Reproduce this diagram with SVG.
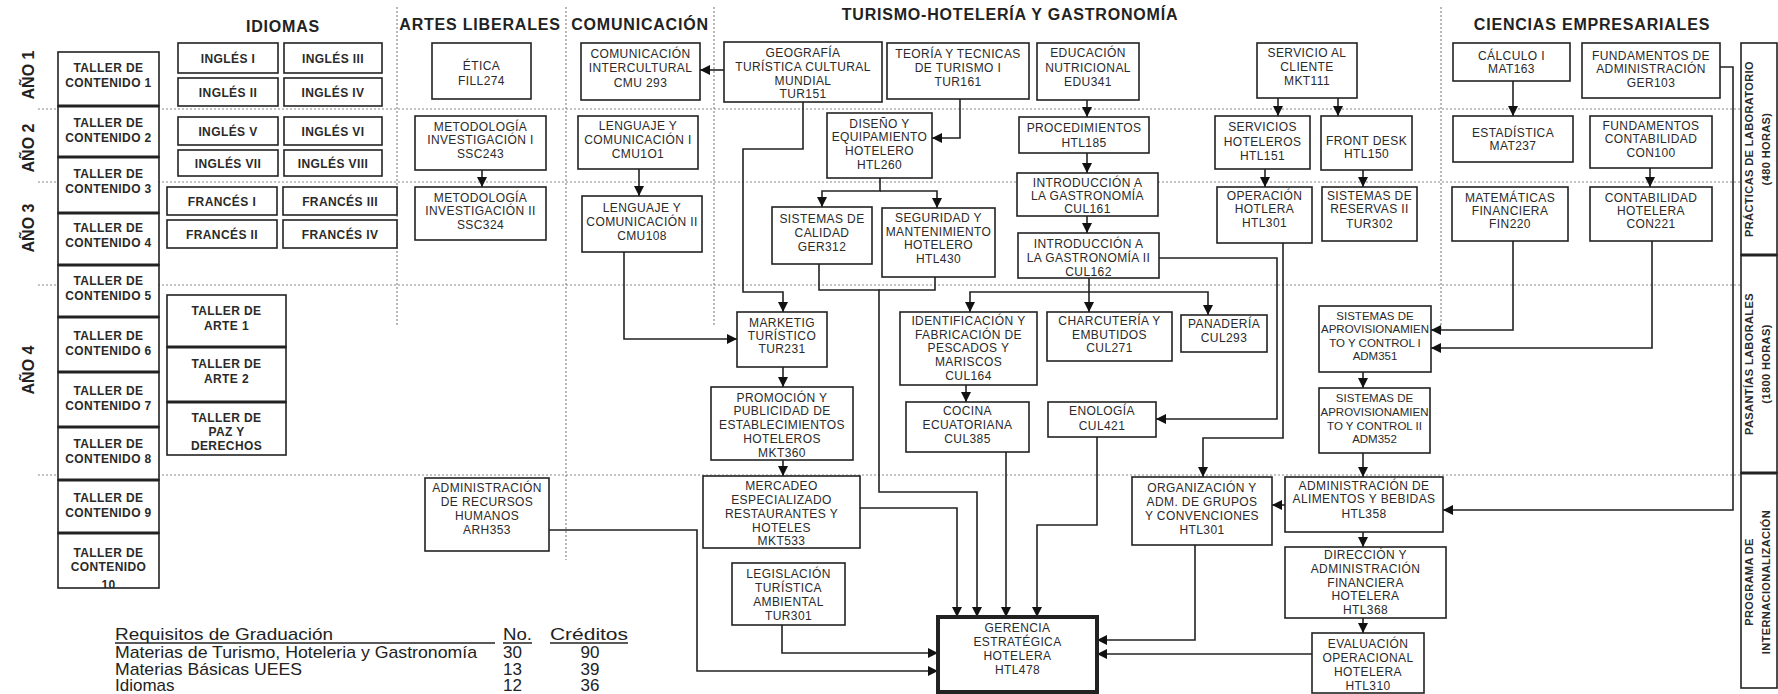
<svg xmlns="http://www.w3.org/2000/svg" width="1778" height="694" viewBox="0 0 1778 694">
<style>
text{font-family:"Liberation Sans",Arial,sans-serif;fill:#2a2a2a}
.n rect{fill:#fff;stroke:#222;stroke-width:1.6}
.n text{font-size:12px;text-anchor:middle;letter-spacing:0.4px}
.bd text{font-weight:bold}
.nar text{font-size:11.5px;letter-spacing:0}
.hd{font-size:16px;font-weight:bold;text-anchor:middle;letter-spacing:0.8px;fill:#222}
.ano{font-size:16px;font-weight:bold;text-anchor:middle;fill:#222}
.sep{stroke:#8a8a8a;stroke-width:1.2;stroke-dasharray:2 2;fill:none}
.thk{stroke:#222;stroke-width:3.2}
#connectors path{fill:none;stroke:#222;stroke-width:1.6;marker-end:url(#ah)}
.side text{font-size:11px;font-weight:bold;text-anchor:middle}
.lg{font-size:17px;fill:#222}
.ul{stroke:#222;stroke-width:1.5}
</style>
<defs>
<marker id="ah" markerUnits="userSpaceOnUse" markerWidth="11" markerHeight="10" refX="10" refY="5" orient="auto">
<path d="M0,0 L10,5 L0,10 z" fill="#111"/>
</marker>
<clipPath id="t10clip"><rect x="58" y="533" width="101" height="55"/></clipPath>
</defs>
<rect width="1778" height="694" fill="#fff"/>

<g id="separators">
<line class="sep" x1="38" y1="109" x2="1741" y2="109"/>
<line class="sep" x1="38" y1="182" x2="1741" y2="182"/>
<line class="sep" x1="38" y1="285" x2="1741" y2="285"/>
<line class="sep" x1="38" y1="475" x2="1741" y2="475"/>
<line class="sep" x1="397" y1="7" x2="397" y2="327"/>
<line class="sep" x1="566" y1="7" x2="566" y2="560"/>
<line class="sep" x1="714" y1="7" x2="714" y2="327"/>
<line class="sep" x1="1441" y1="7" x2="1441" y2="329"/>
</g>

<g id="headers">
<text class="hd" x="283" y="32">IDIOMAS</text>
<text class="hd" x="480" y="30">ARTES LIBERALES</text>
<text class="hd" x="640" y="30">COMUNICACIÓN</text>
<text class="hd" x="1010" y="20">TURISMO-HOTELERÍA Y GASTRONOMÍA</text>
<text class="hd" x="1592" y="30">CIENCIAS EMPRESARIALES</text>
<text class="ano" transform="translate(34,75) rotate(-90)">AÑO 1</text>
<text class="ano" transform="translate(34,148) rotate(-90)">AÑO 2</text>
<text class="ano" transform="translate(34,228) rotate(-90)">AÑO 3</text>
<text class="ano" transform="translate(34,370) rotate(-90)">AÑO 4</text>
</g>

<g id="connectors">
<path d="M724 70 H700"/>
<path d="M803 102 V149 H743 V292 H783 V312"/>
<path d="M960 99 V138 H932"/>
<path d="M1087 100 V117"/>
<path d="M1087 153 V173"/>
<path d="M1087 216 V233"/>
<path d="M880 178 V191 H822 V207"/>
<path d="M880 191 H937 V208"/>
<path d="M482 170 V187"/>
<path d="M639 169 V196"/>
<path d="M624 252 V339 H737"/>
<path d="M783 367 V387"/>
<path d="M783 460 V476"/>
<path d="M819 264 V290 H879 V492 H977 V617"/>
<path d="M935 277 V290 H879" style="marker-end:none"/>
<path d="M860 508 H957 V617"/>
<path d="M1006 452 V617"/>
<path d="M1097 437 V525 H1037 V617"/>
<path d="M549 530 H697 V671 H938"/>
<path d="M782 625 V653 H938"/>
<path d="M1195 545 V640 H1097"/>
<path d="M1312 654 H1097"/>
<path d="M1089 278 V292 H970 V312"/>
<path d="M1089 292 V312"/>
<path d="M1089 292 H1208 V315"/>
<path d="M966 385 V402"/>
<path d="M1159 258 H1277 V419 H1156"/>
<path d="M1283 243 V438 H1203 V477"/>
<path d="M1278 98 V116"/>
<path d="M1338 98 V116"/>
<path d="M1265 169 V187"/>
<path d="M1363 170 V187"/>
<path d="M1513 81 V116"/>
<path d="M1650 168 V187"/>
<path d="M1513 241 V330 H1431"/>
<path d="M1652 241 V348 H1431"/>
<path d="M1363 372 V388"/>
<path d="M1363 453 V477"/>
<path d="M1720 67 H1733 V510 H1443"/>
<path d="M1285 505 H1272"/>
<path d="M1363 532 V547"/>
<path d="M1363 618 V633"/>
</g>

<!-- Taller de contenido column -->
<g id="taller1" class="n bd"><rect x="58" y="52" width="101" height="54"/><text><tspan x="108.5" y="72">TALLER DE</tspan><tspan x="108.5" y="87">CONTENIDO 1</tspan></text></g>
<g id="taller2" class="n bd"><rect x="58" y="106" width="101" height="51"/><text><tspan x="108.5" y="127">TALLER DE</tspan><tspan x="108.5" y="142">CONTENIDO 2</tspan></text></g>
<g id="taller3" class="n bd"><rect x="58" y="157" width="101" height="56"/><text><tspan x="108.5" y="178">TALLER DE</tspan><tspan x="108.5" y="193">CONTENIDO 3</tspan></text></g>
<g id="taller4" class="n bd"><rect x="58" y="213" width="101" height="52"/><text><tspan x="108.5" y="232">TALLER DE</tspan><tspan x="108.5" y="247">CONTENIDO 4</tspan></text></g>
<g id="taller5" class="n bd"><rect x="58" y="265" width="101" height="52"/><text><tspan x="108.5" y="285">TALLER DE</tspan><tspan x="108.5" y="300">CONTENIDO 5</tspan></text></g>
<g id="taller6" class="n bd"><rect x="58" y="317" width="101" height="55"/><text><tspan x="108.5" y="340">TALLER DE</tspan><tspan x="108.5" y="355">CONTENIDO 6</tspan></text></g>
<g id="taller7" class="n bd"><rect x="58" y="372" width="101" height="55"/><text><tspan x="108.5" y="395">TALLER DE</tspan><tspan x="108.5" y="410">CONTENIDO 7</tspan></text></g>
<g id="taller8" class="n bd"><rect x="58" y="427" width="101" height="53"/><text><tspan x="108.5" y="448">TALLER DE</tspan><tspan x="108.5" y="463">CONTENIDO 8</tspan></text></g>
<g id="taller9" class="n bd"><rect x="58" y="480" width="101" height="53"/><text><tspan x="108.5" y="502">TALLER DE</tspan><tspan x="108.5" y="517">CONTENIDO 9</tspan></text></g>
<g id="taller10" class="n bd"><rect x="58" y="533" width="101" height="55"/><text clip-path="url(#t10clip)"><tspan x="108.5" y="557">TALLER DE</tspan><tspan x="108.5" y="571">CONTENIDO</tspan><tspan x="108.5" y="589">10</tspan></text></g>
<g id="taller-sep">
<line class="thk" x1="58" y1="106" x2="159" y2="106"/>
<line class="thk" x1="58" y1="157" x2="159" y2="157"/>
<line class="thk" x1="58" y1="213" x2="159" y2="213"/>
<line class="thk" x1="58" y1="265" x2="159" y2="265"/>
<line class="thk" x1="58" y1="317" x2="159" y2="317"/>
<line class="thk" x1="58" y1="372" x2="159" y2="372"/>
<line class="thk" x1="58" y1="427" x2="159" y2="427"/>
<line class="thk" x1="58" y1="480" x2="159" y2="480"/>
<line class="thk" x1="58" y1="533" x2="159" y2="533"/>
</g>

<g id="arte1" class="n bd"><rect x="167" y="295" width="119" height="52"/><text><tspan x="226.5" y="315">TALLER DE</tspan><tspan x="226.5" y="330">ARTE 1</tspan></text></g>
<g id="arte2" class="n bd"><rect x="167" y="347" width="119" height="55"/><text><tspan x="226.5" y="368">TALLER DE</tspan><tspan x="226.5" y="383">ARTE 2</tspan></text></g>
<g id="paz" class="n bd"><rect x="167" y="402" width="119" height="53"/><text><tspan x="226.5" y="422">TALLER DE</tspan><tspan x="226.5" y="436">PAZ Y</tspan><tspan x="226.5" y="450">DERECHOS</tspan></text></g>
<g id="taller-sep2">
<line class="thk" x1="167" y1="347" x2="286" y2="347"/>
<line class="thk" x1="167" y1="402" x2="286" y2="402"/>
</g>

<!-- Idiomas -->
<g id="ingles1" class="n bd"><rect x="178" y="43" width="100" height="30"/><text x="228" y="63">INGLÉS I</text></g>
<g id="ingles3" class="n bd"><rect x="284" y="43" width="98" height="30"/><text x="333" y="63">INGLÉS III</text></g>
<g id="ingles2" class="n bd"><rect x="178" y="78" width="100" height="28"/><text x="228" y="97">INGLÉS II</text></g>
<g id="ingles4" class="n bd"><rect x="284" y="78" width="98" height="28"/><text x="333" y="97">INGLÉS IV</text></g>
<g id="ingles5" class="n bd"><rect x="178" y="117" width="100" height="28"/><text x="228" y="136">INGLÉS V</text></g>
<g id="ingles6" class="n bd"><rect x="284" y="117" width="98" height="28"/><text x="333" y="136">INGLÉS VI</text></g>
<g id="ingles7" class="n bd"><rect x="178" y="150" width="100" height="26"/><text x="228" y="168">INGLÉS VII</text></g>
<g id="ingles8" class="n bd"><rect x="284" y="150" width="98" height="26"/><text x="333" y="168">INGLÉS VIII</text></g>
<g id="frances1" class="n bd"><rect x="167" y="187" width="110" height="28"/><text x="222" y="206">FRANCÉS I</text></g>
<g id="frances3" class="n bd"><rect x="283" y="187" width="114" height="28"/><text x="340" y="206">FRANCÉS III</text></g>
<g id="frances2" class="n bd"><rect x="167" y="220" width="110" height="28"/><text x="222" y="239">FRANCÉS II</text></g>
<g id="frances4" class="n bd"><rect x="283" y="220" width="114" height="28"/><text x="340" y="239">FRANCÉS  IV</text></g>

<!-- Artes liberales -->
<g id="fill274" class="n"><rect x="432" y="43" width="99" height="56"/><text><tspan x="481.5" y="70">ÉTICA</tspan><tspan x="481.5" y="85">FILL274</tspan></text></g>
<g id="ssc243" class="n"><rect x="415" y="116" width="131" height="54"/><text><tspan x="480.5" y="131">METODOLOGÍA</tspan><tspan x="480.5" y="144">INVESTIGACIÓN  I</tspan><tspan x="480.5" y="158">SSC243</tspan></text></g>
<g id="ssc324" class="n"><rect x="415" y="187" width="131" height="53"/><text><tspan x="480.5" y="202">METODOLOGÍA</tspan><tspan x="480.5" y="215">INVESTIGACIÓN  II</tspan><tspan x="480.5" y="229">SSC324</tspan></text></g>
<g id="arh353" class="n"><rect x="425" y="478" width="124" height="73"/><text><tspan x="487" y="492">ADMINISTRACIÓN</tspan><tspan x="487" y="506">DE RECURSOS</tspan><tspan x="487" y="520">HUMANOS</tspan><tspan x="487" y="534">ARH353</tspan></text></g>

<!-- Comunicacion -->
<g id="cmu293" class="n"><rect x="581" y="43" width="119" height="57"/><text><tspan x="640.5" y="58">COMUNICACIÓN</tspan><tspan x="640.5" y="72">INTERCULTURAL</tspan><tspan x="640.5" y="87">CMU 293</tspan></text></g>
<g id="cmu101" class="n"><rect x="578" y="116" width="120" height="53"/><text><tspan x="638" y="130">LENGUAJE Y</tspan><tspan x="638" y="144">COMUNICACIÓN I</tspan><tspan x="638" y="158">CMU1O1</tspan></text></g>
<g id="cmu108" class="n"><rect x="582" y="196" width="120" height="56"/><text><tspan x="642" y="212">LENGUAJE Y</tspan><tspan x="642" y="226">COMUNICACIÓN II</tspan><tspan x="642" y="240">CMU108</tspan></text></g>

<!-- Turismo -->
<g id="tur151" class="n"><rect x="724" y="42" width="158" height="60"/><text><tspan x="803" y="57">GEOGRAFÍA</tspan><tspan x="803" y="71">TURÍSTICA CULTURAL</tspan><tspan x="803" y="85">MUNDIAL</tspan><tspan x="803" y="98">TUR151</tspan></text></g>
<g id="tur161" class="n"><rect x="887" y="43" width="142" height="56"/><text><tspan x="958" y="58">TEORÍA Y TECNICAS</tspan><tspan x="958" y="72">DE TURISMO I</tspan><tspan x="958" y="86">TUR161</tspan></text></g>
<g id="edu341" class="n"><rect x="1037" y="43" width="102" height="57"/><text><tspan x="1088" y="57">EDUCACIÓN</tspan><tspan x="1088" y="72">NUTRICIONAL</tspan><tspan x="1088" y="86">EDU341</tspan></text></g>
<g id="htl260" class="n"><rect x="827" y="113" width="105" height="65"/><text><tspan x="879.5" y="128">DISEÑO Y</tspan><tspan x="879.5" y="141">EQUIPAMIENTO</tspan><tspan x="879.5" y="155">HOTELERO</tspan><tspan x="879.5" y="169">HTL260</tspan></text></g>
<g id="htl185" class="n"><rect x="1019" y="117" width="130" height="36"/><text><tspan x="1084" y="132">PROCEDIMIENTOS</tspan><tspan x="1084" y="147">HTL185</tspan></text></g>
<g id="cul161" class="n"><rect x="1017" y="173" width="141" height="43"/><text><tspan x="1087.5" y="187">INTRODUCCIÓN A</tspan><tspan x="1087.5" y="200">LA GASTRONOMÍA</tspan><tspan x="1087.5" y="213">CUL161</tspan></text></g>
<g id="cul162" class="n"><rect x="1018" y="233" width="141" height="45"/><text><tspan x="1088.5" y="248">INTRODUCCIÓN A</tspan><tspan x="1088.5" y="262">LA GASTRONOMÍA II</tspan><tspan x="1088.5" y="276">CUL162</tspan></text></g>
<g id="ger312" class="n"><rect x="772" y="207" width="100" height="57"/><text><tspan x="822" y="223">SISTEMAS DE</tspan><tspan x="822" y="237">CALIDAD</tspan><tspan x="822" y="251">GER312</tspan></text></g>
<g id="htl430" class="n"><rect x="882" y="208" width="113" height="69"/><text><tspan x="938.5" y="222">SEGURIDAD Y</tspan><tspan x="938.5" y="236">MANTENIMIENTO</tspan><tspan x="938.5" y="249">HOTELERO</tspan><tspan x="938.5" y="263">HTL430</tspan></text></g>
<g id="tur231" class="n"><rect x="737" y="312" width="90" height="55"/><text><tspan x="782" y="327">MARKETIG</tspan><tspan x="782" y="340">TURÍSTICO</tspan><tspan x="782" y="353">TUR231</tspan></text></g>
<g id="mkt360" class="n"><rect x="711" y="387" width="142" height="73"/><text><tspan x="782" y="402">PROMOCIÓN Y</tspan><tspan x="782" y="415">PUBLICIDAD DE</tspan><tspan x="782" y="429">ESTABLECIMIENTOS</tspan><tspan x="782" y="443">HOTELEROS</tspan><tspan x="782" y="457">MKT360</tspan></text></g>
<g id="mkt533" class="n"><rect x="703" y="476" width="157" height="72"/><text><tspan x="781.5" y="490">MERCADEO</tspan><tspan x="781.5" y="504">ESPECIALIZADO</tspan><tspan x="781.5" y="518">RESTAURANTES Y</tspan><tspan x="781.5" y="532">HOTELES</tspan><tspan x="781.5" y="545">MKT533</tspan></text></g>
<g id="tur301" class="n"><rect x="732" y="563" width="113" height="62"/><text><tspan x="788.5" y="578">LEGISLACIÓN</tspan><tspan x="788.5" y="592">TURÍSTICA</tspan><tspan x="788.5" y="606">AMBIENTAL</tspan><tspan x="788.5" y="620">TUR301</tspan></text></g>
<g id="cul164" class="n"><rect x="900" y="312" width="137" height="73"/><text><tspan x="968.5" y="325">IDENTIFICACIÓN Y</tspan><tspan x="968.5" y="339">FABRICACIÓN DE</tspan><tspan x="968.5" y="352">PESCADOS Y</tspan><tspan x="968.5" y="366">MARISCOS</tspan><tspan x="968.5" y="380">CUL164</tspan></text></g>
<g id="cul271" class="n"><rect x="1047" y="312" width="125" height="49"/><text><tspan x="1109.5" y="325">CHARCUTERÍA Y</tspan><tspan x="1109.5" y="339">EMBUTIDOS</tspan><tspan x="1109.5" y="352">CUL271</tspan></text></g>
<g id="cul293" class="n"><rect x="1181" y="315" width="86" height="37"/><text><tspan x="1224" y="328">PANADERÍA</tspan><tspan x="1224" y="342">CUL293</tspan></text></g>
<g id="cul385" class="n"><rect x="906" y="402" width="123" height="50"/><text><tspan x="967.5" y="415">COCINA</tspan><tspan x="967.5" y="429">ECUATORIANA</tspan><tspan x="967.5" y="443">CUL385</tspan></text></g>
<g id="cul421" class="n"><rect x="1048" y="402" width="108" height="35"/><text><tspan x="1102" y="415">ENOLOGÍA</tspan><tspan x="1102" y="430">CUL421</tspan></text></g>
<g id="htl478" class="n"><rect x="938" y="617" width="159" height="75" style="stroke-width:4"/><text><tspan x="1017.5" y="632">GERENCIA</tspan><tspan x="1017.5" y="646">ESTRATÉGICA</tspan><tspan x="1017.5" y="660">HOTELERA</tspan><tspan x="1017.5" y="674">HTL478</tspan></text></g>
<g id="mkt111" class="n"><rect x="1257" y="43" width="100" height="55"/><text><tspan x="1307" y="57">SERVICIO AL</tspan><tspan x="1307" y="71">CLIENTE</tspan><tspan x="1307" y="85">MKT111</tspan></text></g>
<g id="htl151" class="n"><rect x="1215" y="116" width="95" height="53"/><text><tspan x="1262.5" y="131">SERVICIOS</tspan><tspan x="1262.5" y="146">HOTELEROS</tspan><tspan x="1262.5" y="160">HTL151</tspan></text></g>
<g id="htl150" class="n"><rect x="1321" y="116" width="91" height="54"/><text><tspan x="1366.5" y="145">FRONT DESK</tspan><tspan x="1366.5" y="158">HTL150</tspan></text></g>
<g id="htl301op" class="n"><rect x="1217" y="187" width="95" height="56"/><text><tspan x="1264.5" y="200">OPERACIÓN</tspan><tspan x="1264.5" y="213">HOTLERA</tspan><tspan x="1264.5" y="227">HTL301</tspan></text></g>
<g id="tur302" class="n"><rect x="1322" y="187" width="95" height="54"/><text><tspan x="1369.5" y="200">SISTEMAS DE</tspan><tspan x="1369.5" y="213">RESERVAS II</tspan><tspan x="1369.5" y="228">TUR302</tspan></text></g>
<g id="htl301org" class="n"><rect x="1132" y="477" width="140" height="68"/><text><tspan x="1202" y="492">ORGANIZACIÓN Y</tspan><tspan x="1202" y="506">ADM. DE  GRUPOS</tspan><tspan x="1202" y="520">Y CONVENCIONES</tspan><tspan x="1202" y="534">HTL301</tspan></text></g>

<!-- Ciencias empresariales -->
<g id="mat163" class="n"><rect x="1453" y="43" width="117" height="38"/><text><tspan x="1511.5" y="60">CÁLCULO I</tspan><tspan x="1511.5" y="73">MAT163</tspan></text></g>
<g id="ger103" class="n"><rect x="1582" y="43" width="138" height="55"/><text><tspan x="1651" y="60">FUNDAMENTOS DE</tspan><tspan x="1651" y="73">ADMINISTRACIÓN</tspan><tspan x="1651" y="87">GER103</tspan></text></g>
<g id="mat237" class="n"><rect x="1453" y="116" width="120" height="46"/><text><tspan x="1513" y="137">ESTADÍSTICA</tspan><tspan x="1513" y="150">MAT237</tspan></text></g>
<g id="con100" class="n"><rect x="1590" y="116" width="122" height="52"/><text><tspan x="1651" y="130">FUNDAMENTOS</tspan><tspan x="1651" y="143">CONTABILIDAD</tspan><tspan x="1651" y="157">CON100</tspan></text></g>
<g id="fin220" class="n"><rect x="1452" y="187" width="116" height="54"/><text><tspan x="1510" y="202">MATEMÁTICAS</tspan><tspan x="1510" y="215">FINANCIERA</tspan><tspan x="1510" y="228">FIN220</tspan></text></g>
<g id="con221" class="n"><rect x="1590" y="187" width="122" height="54"/><text><tspan x="1651" y="202">CONTABILIDAD</tspan><tspan x="1651" y="215">HOTELERA</tspan><tspan x="1651" y="228">CON221</tspan></text></g>
<g id="adm351" class="n nar"><rect x="1319" y="306" width="112" height="66"/><text><tspan x="1375" y="320">SISTEMAS DE</tspan><tspan x="1375" y="333">APROVISIONAMIEN</tspan><tspan x="1375" y="347">TO Y CONTROL I</tspan><tspan x="1375" y="360">ADM351</tspan></text></g>
<g id="adm352" class="n nar"><rect x="1319" y="388" width="111" height="65"/><text><tspan x="1374.5" y="402">SISTEMAS DE</tspan><tspan x="1374.5" y="416">APROVISIONAMIEN</tspan><tspan x="1374.5" y="430">TO Y CONTROL II</tspan><tspan x="1374.5" y="443">ADM352</tspan></text></g>
<g id="htl358" class="n"><rect x="1285" y="477" width="158" height="55"/><text><tspan x="1364" y="490">ADMINISTRACIÓN DE</tspan><tspan x="1364" y="503">ALIMENTOS Y BEBIDAS</tspan><tspan x="1364" y="518">HTL358</tspan></text></g>
<g id="htl368" class="n"><rect x="1285" y="547" width="161" height="71"/><text><tspan x="1365.5" y="559">DIRECCIÓN Y</tspan><tspan x="1365.5" y="573">ADMINISTRACIÓN</tspan><tspan x="1365.5" y="587">FINANCIERA</tspan><tspan x="1365.5" y="600">HOTELERA</tspan><tspan x="1365.5" y="614">HTL368</tspan></text></g>
<g id="htl310" class="n"><rect x="1312" y="633" width="112" height="60"/><text><tspan x="1368" y="648">EVALUACIÓN</tspan><tspan x="1368" y="662">OPERACIONAL</tspan><tspan x="1368" y="676">HOTELERA</tspan><tspan x="1368" y="690">HTL310</tspan></text></g>

<!-- Side boxes -->
<g id="practicas" class="n side"><rect x="1741" y="43" width="36" height="212"/><text transform="translate(1753,149) rotate(-90)">PRÁCTICAS DE LABORATORIO</text><text transform="translate(1770,149) rotate(-90)">(480 HORAS)</text></g>
<g id="pasantias" class="n side"><rect x="1741" y="255" width="36" height="218"/><text transform="translate(1753,364) rotate(-90)">PASANTÍAS LABORALES</text><text transform="translate(1770,364) rotate(-90)">(1800 HORAS)</text></g>
<g id="internacional" class="n side"><rect x="1741" y="473" width="36" height="215"/><text transform="translate(1753,582) rotate(-90)">PROGRAMA DE</text><text transform="translate(1770,582) rotate(-90)">INTERNACIONALIZACIÓN</text></g>
<g id="side-sep">
<line class="thk" x1="1741" y1="255" x2="1777" y2="255"/>
<line class="thk" x1="1741" y1="473" x2="1777" y2="473"/>
</g>

<!-- Legend -->
<g id="legend">
<text class="lg" x="115" y="640" textLength="218" lengthAdjust="spacingAndGlyphs">Requisitos de Graduación</text>
<text class="lg" x="503" y="640" textLength="29" lengthAdjust="spacingAndGlyphs">No.</text>
<text class="lg" x="550" y="640" textLength="78" lengthAdjust="spacingAndGlyphs">Créditos</text>
<line class="ul" x1="115" y1="643" x2="495" y2="643"/>
<line class="ul" x1="503" y1="643" x2="532" y2="643"/>
<line class="ul" x1="550" y1="643" x2="628" y2="643"/>
<text class="lg" x="115" y="658" textLength="362" lengthAdjust="spacingAndGlyphs">Materias de Turismo, Hoteleria y Gastronomía</text>
<text class="lg" x="503" y="658">30</text>
<text class="lg" x="590" y="658" text-anchor="middle">90</text>
<text class="lg" x="115" y="675" textLength="187" lengthAdjust="spacingAndGlyphs">Materias Básicas UEES</text>
<text class="lg" x="503" y="675">13</text>
<text class="lg" x="590" y="675" text-anchor="middle">39</text>
<text class="lg" x="115" y="691">Idiomas</text>
<text class="lg" x="503" y="691">12</text>
<text class="lg" x="590" y="691" text-anchor="middle">36</text>
</g>
</svg>
